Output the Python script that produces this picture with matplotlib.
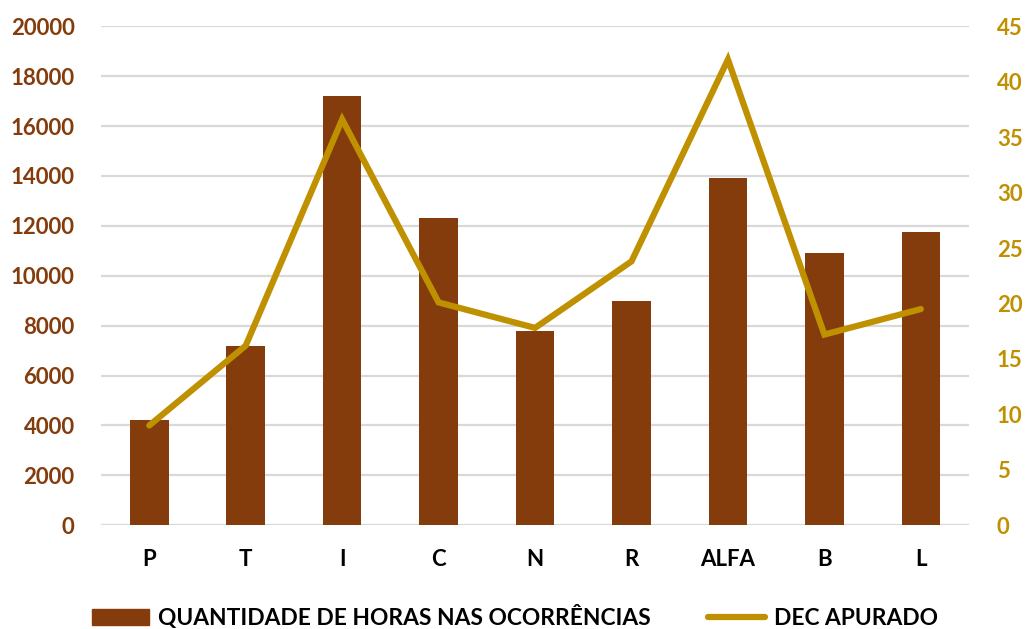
import matplotlib.pyplot as plt
from matplotlib.lines import Line2D
from matplotlib.patches import Patch

# Dados
categorias = ["P", "T", "I", "C", "N", "R", "ALFA", "B", "L"]
horas = [4200, 7200, 17200, 12300, 7800, 9000, 13900, 10900, 11750]
dec = [9.0, 16.2, 36.6, 20.1, 17.8, 23.8, 42.0, 17.2, 19.5]

cor_barra = "#843C0C"
cor_linha = "#BF9000"

plt.rcParams['font.family'] = ['Lato', 'DejaVu Sans']
plt.rcParams['font.weight'] = 'bold'

fig = plt.figure(figsize=(10.32, 6.29), dpi=100)
ax = fig.add_axes([0.0979, 0.1649, 0.8411, 0.7933])
x = list(range(len(categorias)))

ax.bar(x, horas, width=0.4, color=cor_barra, zorder=2)
ax.set_ylim(0, 20000)
ax.set_yticks(range(0, 20001, 2000))
ax.set_xlim(-0.5, len(categorias) - 0.5)
ax.set_xticks(x)
ax.set_xticklabels(categorias, fontsize=16, fontweight='bold', color='black')
ax.grid(axis='y', color='#D9D9D9', linewidth=1.6, zorder=0)
ax.set_axisbelow(True)
ax.tick_params(axis='y', colors=cor_barra, labelsize=16, length=0, pad=19)
ax.tick_params(axis='x', length=0, pad=17)
for s in ax.spines.values():
    s.set_visible(False)

ax2 = ax.twinx()
ax2.plot(x, dec, color=cor_linha, linewidth=4.5, solid_capstyle='round',
         solid_joinstyle='miter', zorder=3)
ax2.set_ylim(0, 45)
ax2.set_yticks(range(0, 46, 5))
ax2.tick_params(axis='y', colors=cor_linha, labelsize=16, length=0, pad=20)
for s in ax2.spines.values():
    s.set_visible(False)
for lab in ax.get_yticklabels() + ax2.get_yticklabels():
    lab.set_fontweight('bold')

handles = [Patch(color=cor_barra, label="QUANTIDADE DE HORAS NAS OCORRÊNCIAS"),
           Line2D([0], [0], color=cor_linha, linewidth=4.5, solid_capstyle='round',
                  label="DEC APURADO")]
fig.legend(handles=handles, loc='center', bbox_to_anchor=(0.499, 0.019),
           ncol=2, frameon=False, handlelength=2.5, handletextpad=0.4,
           columnspacing=2.5, prop={'weight': 'bold', 'size': 16.4})

fig.savefig("out.png", dpi=100)
